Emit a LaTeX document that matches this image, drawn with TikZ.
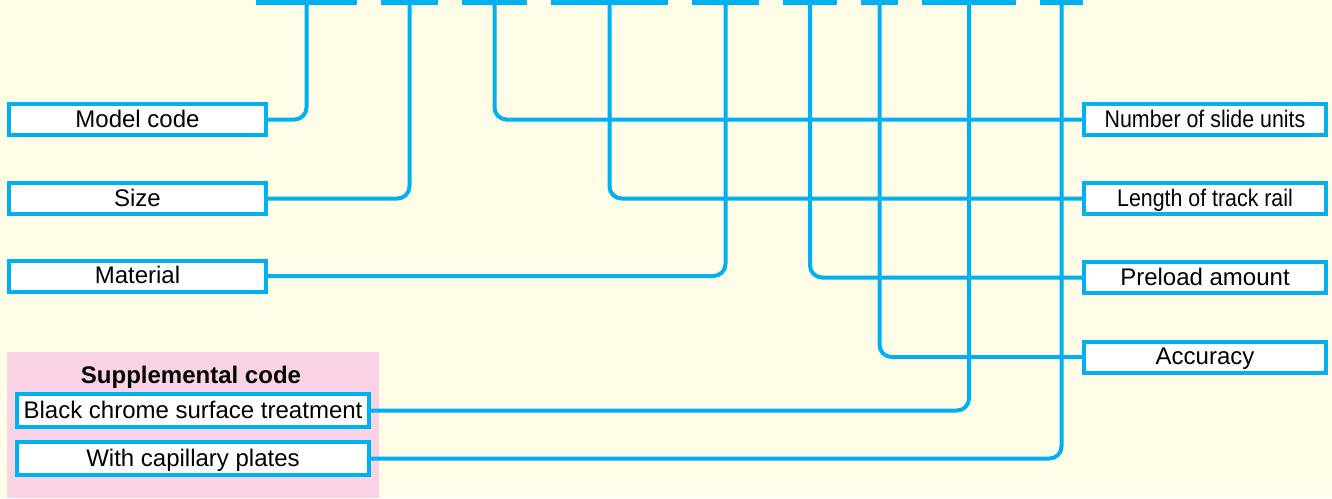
\documentclass[tikz,border=0pt]{standalone}
\usepackage{fontspec}
\setmainfont{Liberation Sans}
\newfontfamily\narrowfont[FakeStretch=0.89]{Liberation Sans}
\definecolor{codeblue}{RGB}{0,176,240}
\definecolor{paper}{RGB}{255,252,232}
\definecolor{suppink}{RGB}{249,211,229}
\begin{document}
\begin{tikzpicture}[
    x=0.5pt, y=-0.5pt,
    font=\fontsize{12}{14}\selectfont,
    % segments du code en haut
    bar/.style={fill=codeblue, draw=none, inner sep=0pt, minimum height=2.25pt},
    % cadres des libellés
    tagbox/.style={draw=codeblue, line width=2pt, fill=white, inner sep=0pt,
        text height=8.6pt, text depth=1pt,
        minimum width=128.5pt, minimum height=15.5pt},
    suppbox/.style={tagbox, minimum width=176pt, minimum height=16.5pt},
    rightbox/.style={tagbox, minimum width=121pt},
    link/.style={draw=codeblue, line width=2pt, rounded corners=6pt}
]
% fond
\fill[paper] (0,0) rectangle (1332,498);
\useasboundingbox (0,0) rectangle (1332,498);
\fill[suppink] (7,352) rectangle (379,498);

% segments
\node[bar, minimum width=50.5pt] (b1) at (306.5,2.25) {};
\node[bar, minimum width=28.5pt] (b2) at (409.5,2.25) {};
\node[bar, minimum width=32.5pt] (b3) at (494.5,2.25) {};
\node[bar, minimum width=58.5pt] (b4) at (609.5,2.25) {};
\node[bar, minimum width=33.5pt] (b5) at (725.5,2.25) {};
\node[bar, minimum width=27pt]   (b6) at (810,2.25) {};
\node[bar, minimum width=18.5pt] (b7) at (879.5,2.25) {};
\node[bar, minimum width=47pt]   (b8) at (969,2.25) {};
\node[bar, minimum width=21.5pt] (b9) at (1061.5,2.25) {};

% libellés à gauche
\node[tagbox] (model) at (137.5,119.5) {Model code};
\node[tagbox] (size) at (137.5,198.5) {Size};
\node[tagbox] (material) at (137.5,276) {Material};
\node[font=\fontsize{12}{14}\selectfont\bfseries, inner sep=0pt,
    text height=8.6pt, text depth=1pt] (supp) at (191,376) {Supplemental code};
\node[suppbox] (black) at (193,410.5) {Black chrome surface treatment};
\node[suppbox] (capil) at (193,458.5) {With capillary plates};

% libellés à droite
\node[rightbox] (slides) at (1205,119.5) {\narrowfont Number of slide units};
\node[rightbox] (rail) at (1205,198.5) {\narrowfont Length of track rail};
\node[rightbox] (preload) at (1205,277.5) {Preload amount};
\node[rightbox] (accur) at (1205,357) {Accuracy};

% liaisons
\draw[link] (b1.south) |- (model.east);
\draw[link] (b2.south) |- (size.east);
\draw[link] (b5.south) |- (material.east);
\draw[link] (b8.south) |- (black.east);
\draw[link] (b9.south) |- (capil.east);
\draw[link] (b3.south) |- (slides.west);
\draw[link] (b4.south) |- (rail.west);
\draw[link] (b6.south) |- (preload.west);
\draw[link] (b7.south) |- (accur.west);
\end{tikzpicture}
\end{document}
